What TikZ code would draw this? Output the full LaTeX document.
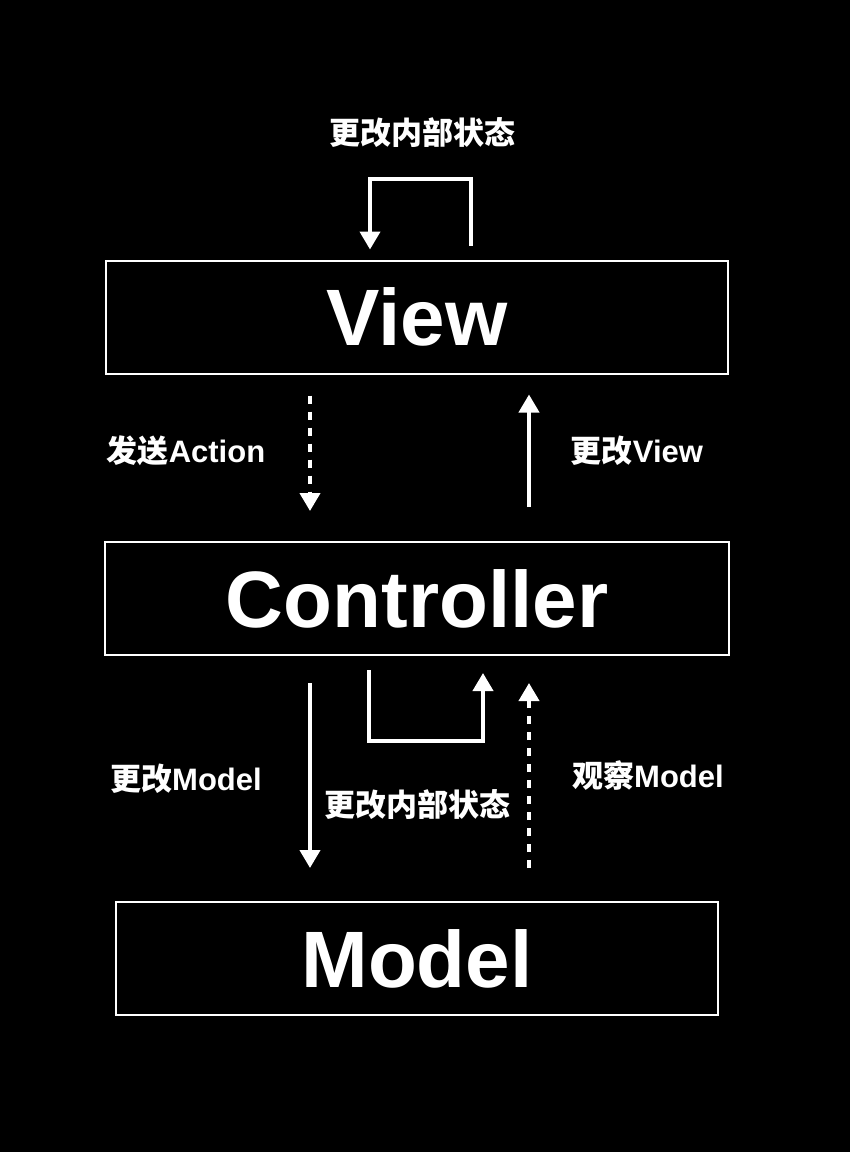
\documentclass[tikz,border=0pt]{standalone}
\usepackage{fontspec}
\setmainfont{Liberation Sans}
\newfontfamily\cjk{Noto Sans CJK SC}
\newcommand\zh[1]{{\cjk\bfseries #1}}
\usetikzlibrary{arrows.meta}

\tikzset{
  box/.style={draw=white, line width=1pt, minimum width=#1, minimum height=56.5pt,
    inner sep=0pt, text=white, text depth=0pt, font=\fontsize{40}{40}\selectfont\bfseries},
  arr/.style={draw=white, line width=2pt, -{Triangle[width=10pt,length=9pt]}},
  dasharr/.style={arr, dash pattern=on 4pt off 4pt},
  lbl/.style={text=white, inner sep=0pt, font=\fontsize{15.5}{16}\selectfont\bfseries}
}

\begin{document}
\begin{tikzpicture}[x=0.5pt,y=-0.5pt]
  \fill[black] (0,0) rectangle (850,1152);
  % the three boxes
  \node[box=311pt] (view) at (417,317) {View};
  \node[box=312pt] (ctrl) at (417,598.5) {Controller};
  \node[box=301pt] (model) at (417,958.5) {Model};
  % view changes itself
  \draw[arr] ([xshift=27pt,yshift=7pt]view.north) -- ++(0,-67) -| ([xshift=-23.5pt,yshift=5pt]view.north);
  \node[lbl] (viewself) at (422,133) {\zh{更改内部状态}};
  % view <-> controller
  \draw[dasharr] ([xshift=-53.5pt,yshift=-10.5pt]view.south) -- ([xshift=-53.5pt,yshift=15pt]ctrl.north);
  \draw[arr] ([xshift=56pt,yshift=17pt]ctrl.north) -- ([xshift=56pt,yshift=-10pt]view.south);
  \node[lbl] (send) at (186,451) {\zh{发送}Action};
  \node[lbl] (chview) at (637,451) {\zh{更改}View};
  % controller <-> model
  \draw[arr] ([xshift=-53.5pt,yshift=-13.5pt]ctrl.south) -- ([xshift=-53.5pt,yshift=16.5pt]model.north);
  \draw[arr] ([xshift=-24pt,yshift=-7pt]ctrl.south) -- ++(0,71) -| ([xshift=33pt,yshift=-8.5pt]ctrl.south);
  \draw[dasharr] ([xshift=56pt,yshift=16.5pt]model.north) -- ([xshift=56pt,yshift=-13.5pt]ctrl.south);
  \node[lbl] (chmodel) at (186,779) {\zh{更改}Model};
  \node[lbl] (ctrlself) at (417,805) {\zh{更改内部状态}};
  \node[lbl] (watch) at (648,776) {\zh{观察}Model};
\end{tikzpicture}
\end{document}
